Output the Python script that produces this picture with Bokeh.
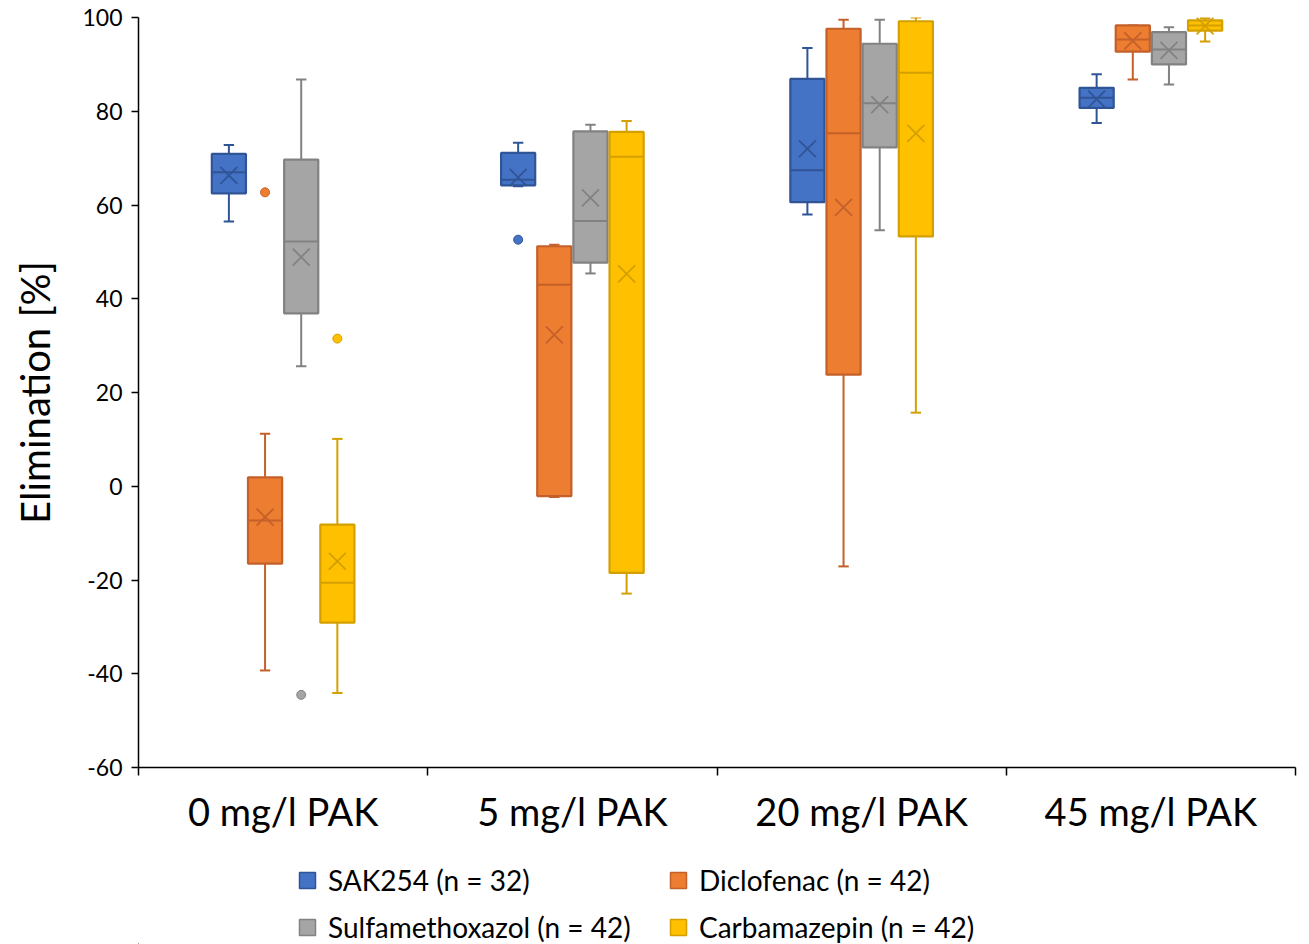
from bokeh.plotting import figure
from bokeh.layouts import column
from bokeh.models import Range1d, FixedTicker, Legend, LegendItem
from bokeh.embed import file_html
from bokeh.resources import INLINE

cats = ["0 mg/l PAK", "5 mg/l PAK", "20 mg/l PAK", "45 mg/l PAK"]
series_names = ["SAK254 (n = 32)", "Diclofenac (n = 42)",
                "Sulfamethoxazol (n = 42)", "Carbamazepin (n = 42)"]

# SAK254
sak_lo = [56.5, 64.0, 58.0, 77.5]
sak_q1 = [62.5, 64.2, 60.6, 80.7]
sak_med = [67.0, 65.4, 67.4, 82.9]
sak_q3 = [70.9, 71.1, 86.9, 85.0]
sak_hi = [72.8, 73.3, 93.5, 87.9]
sak_mean = [66.3, 65.9, 72.0, 82.6]
sak_out_cat = [1]
sak_out_val = [52.6]

# Diclofenac
dic_lo = [-39.3, -2.3, -17.1, 86.8]
dic_q1 = [-16.5, -2.1, 23.8, 92.7]
dic_med = [-7.3, 43.0, 75.3, 95.3]
dic_q3 = [1.9, 51.2, 97.6, 98.3]
dic_hi = [11.2, 51.5, 99.5, 98.3]
dic_mean = [-6.6, 32.3, 59.5, 95.0]
dic_out_cat = [0]
dic_out_val = [62.7]

# Sulfamethoxazol
sul_lo = [25.6, 45.4, 54.6, 85.7]
sul_q1 = [36.9, 47.7, 72.3, 90.0]
sul_med = [52.2, 56.6, 81.7, 93.2]
sul_q3 = [69.7, 75.7, 94.4, 96.9]
sul_hi = [86.8, 77.1, 99.5, 97.9]
sul_mean = [48.9, 61.5, 81.4, 93.0]
sul_out_cat = [0]
sul_out_val = [-44.5]

# Carbamazepin
car_lo = [-44.1, -22.9, 15.7, 94.9]
car_q1 = [-29.1, -18.5, 53.3, 97.2]
car_med = [-20.6, 70.3, 88.2, 98.3]
car_q3 = [-8.2, 75.6, 99.2, 99.4]
car_hi = [10.1, 77.9, 100.0, 99.9]
car_mean = [-16.0, 45.3, 75.3, 98.2]
car_out_cat = [0]
car_out_val = [31.5]

y_ticks = [-60, -40, -20, 0, 20, 40, 60, 80, 100]
y_tick_labels = ["-60", "-40", "-20", "0", "20", "40", "60", "80", "100"]

fills = ["#4472C4", "#ED7D31", "#A5A5A5", "#FFC000"]
edges = ["#2F5597", "#C4602A", "#828282", "#D4A000"]

data = [
    (sak_lo, sak_q1, sak_med, sak_q3, sak_hi, sak_mean, sak_out_cat, sak_out_val),
    (dic_lo, dic_q1, dic_med, dic_q3, dic_hi, dic_mean, dic_out_cat, dic_out_val),
    (sul_lo, sul_q1, sul_med, sul_q3, sul_hi, sul_mean, sul_out_cat, sul_out_val),
    (car_lo, car_q1, car_med, car_q3, car_hi, car_mean, car_out_cat, car_out_val),
]

FONT = "Lato"
W = 1300

p = figure(width=W, height=850, output_backend="svg", toolbar_location=None,
           x_range=Range1d(0, len(cats)), y_range=Range1d(-60, 100),
           min_border_left=138, min_border_right=W - 1295, min_border_top=17,
           min_border_bottom=83)
p.outline_line_color = None
p.grid.visible = False
p.background_fill_color = "white"

# legend figure below the chart (its ranges show none of the boxes)
lg = figure(width=W, height=94, output_backend="svg", toolbar_location=None,
            x_range=Range1d(100, 200), y_range=Range1d(500, 600),
            min_border_left=0, min_border_right=0, min_border_top=0, min_border_bottom=0)
lg.axis.visible = False
lg.grid.visible = False
lg.outline_line_color = None

box_w = 0.118
step = 0.125
cap_w = 0.036
items = []
for i, (lo, q1, med, q3, hi, mean, ocat, oval) in enumerate(data):
    off = (i - 1.5) * step
    xs = [c + 0.5 + off for c in range(len(cats))]
    fc, ec = fills[i], edges[i]
    p.segment(x0=xs, y0=q3, x1=xs, y1=hi, line_color=ec, line_width=2)
    p.segment(x0=xs, y0=q1, x1=xs, y1=lo, line_color=ec, line_width=2)
    p.segment(x0=[x - cap_w / 2 for x in xs], y0=hi, x1=[x + cap_w / 2 for x in xs], y1=hi,
              line_color=ec, line_width=2)
    p.segment(x0=[x - cap_w / 2 for x in xs], y0=lo, x1=[x + cap_w / 2 for x in xs], y1=lo,
              line_color=ec, line_width=2)
    p.vbar(x=xs, width=box_w, top=q3, bottom=q1, fill_color=fc, line_color=ec, line_width=2.2)
    p.segment(x0=[x - box_w / 2 for x in xs], y0=med, x1=[x + box_w / 2 for x in xs], y1=med,
              line_color=ec, line_width=2)
    p.scatter(x=xs, y=mean, marker="x", size=24, line_color=ec, line_width=1.8)
    oxs = [c + 0.5 + off for c in ocat]
    p.scatter(x=oxs, y=oval, marker="circle", size=9, fill_color=fc, line_color=ec, line_width=1)
    r = lg.vbar(x=xs, width=box_w, top=q3, bottom=q1, fill_color=fc, line_color=ec,
                line_width=1.5)
    items.append(LegendItem(label=series_names[i], renderers=[r]))

# axes
p.xaxis.ticker = FixedTicker(ticks=[c + 0.5 for c in range(len(cats))],
                             minor_ticks=list(range(len(cats) + 1)))
p.xaxis.major_label_overrides = {c + 0.5: cats[c] for c in range(len(cats))}
p.xaxis.major_tick_line_color = None
p.xaxis.minor_tick_in = 0
p.xaxis.minor_tick_out = 8
p.xaxis.minor_tick_line_color = "black"
p.xaxis.minor_tick_line_width = 1.5
p.xaxis.axis_line_color = "black"
p.xaxis.axis_line_width = 1.5
p.xaxis.major_label_text_font = FONT
p.xaxis.major_label_text_font_size = "38px"
p.xaxis.major_label_text_color = "black"
p.xaxis.major_label_standoff = 12

p.yaxis.ticker = FixedTicker(ticks=y_ticks, minor_ticks=[])
p.yaxis.major_label_overrides = {t: l for t, l in zip(y_ticks, y_tick_labels)}
p.yaxis.major_tick_in = 0
p.yaxis.major_tick_out = 7
p.yaxis.major_tick_line_color = "black"
p.yaxis.major_tick_line_width = 1.5
p.yaxis.axis_line_color = "black"
p.yaxis.axis_line_width = 1.5
p.yaxis.major_label_text_font = FONT
p.yaxis.major_label_text_font_size = "23px"
p.yaxis.major_label_text_color = "black"
p.yaxis.major_label_standoff = 9
p.yaxis.axis_label = "Elimination [%]"
p.yaxis.axis_label_text_font = FONT
p.yaxis.axis_label_text_font_size = "40px"
p.yaxis.axis_label_text_font_style = "normal"
p.yaxis.axis_label_text_color = "black"
p.yaxis.axis_label_standoff = 20

legend = Legend(items=items, orientation="horizontal", ncols=2, location=(159, 0),
                label_text_font=FONT, label_text_font_size="28px",
                label_text_color="black", glyph_width=20, glyph_height=20,
                label_height=30, label_width=327, label_standoff=11, spacing=13,
                padding=0, margin=0,
                border_line_color=None, background_fill_alpha=0)
lg.add_layout(legend, "center")

layout = column(p, lg, spacing=0)
open("out.html", "w").write(file_html(layout, INLINE))
